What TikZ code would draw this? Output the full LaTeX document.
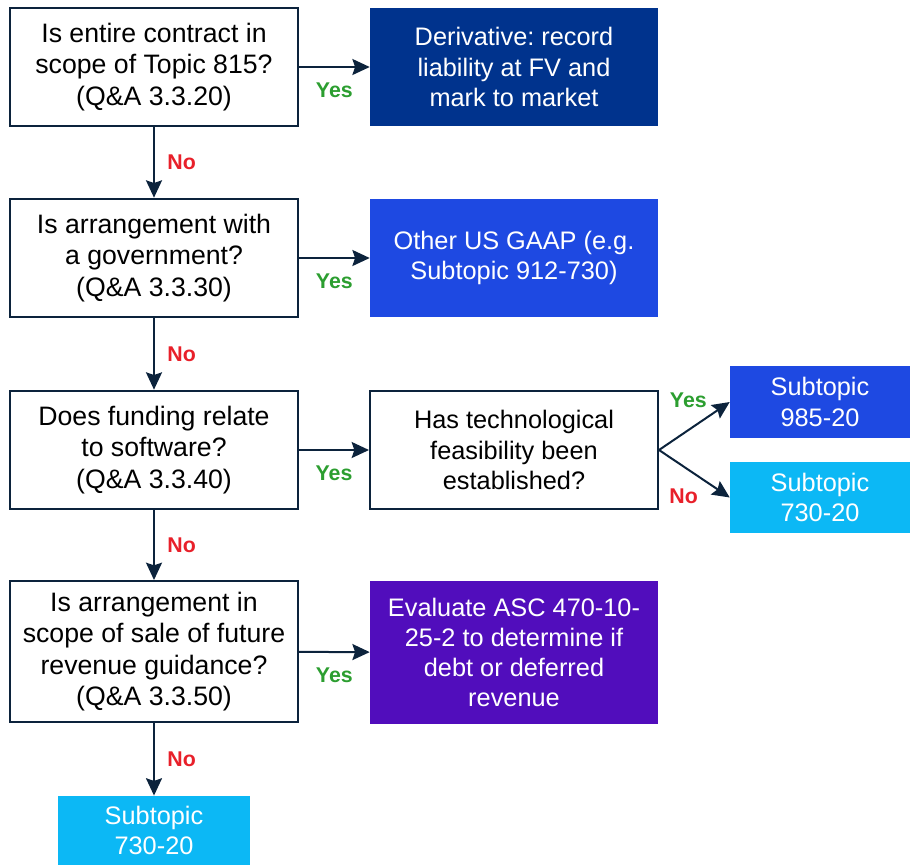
\documentclass[tikz,border=0pt]{standalone}
\usepackage{fontspec}
\setmainfont{Liberation Sans}
\usepackage{tikz}
\usetikzlibrary{positioning, arrows.meta}
\frenchspacing

\definecolor{lineblue}{RGB}{12,35,60}
\definecolor{navybox}{RGB}{0,51,141}
\definecolor{bluebox}{RGB}{30,73,226}
\definecolor{cyanbox}{RGB}{12,184,245}
\definecolor{purplebox}{RGB}{81,13,188}
\definecolor{yesgreen}{RGB}{44,158,48}
\definecolor{nored}{RGB}{232,32,42}

\begin{document}
\begin{tikzpicture}[x=0.75pt, y=-0.75pt, font=\fontsize{20}{23.5}\selectfont]
        % Setup the styles for the boxes
        \tikzset{question/.style={draw=lineblue,
                                  line width=1.5pt,
                                  fill=white,
                                  minimum width=216pt,
                                  minimum height=89pt,
                                  inner sep=0pt,
                                  align=center},
                 answer/.style={fill=#1,
                                text=white,
                                font=\fontsize{19}{22.6}\selectfont,
                                minimum width=216pt,
                                minimum height=89pt,
                                inner sep=0pt,
                                align=center},
                 yes label/.style={text=yesgreen, font=\bfseries\fontsize{16}{19}\selectfont},
                 no label/.style={text=nored, font=\bfseries\fontsize{16}{19}\selectfont}}

        \useasboundingbox (0,0) rectangle (910,865);

        % Draw the questions
        \node[question] at (154, 67)    (q1) {Is entire contract in\\scope of Topic 815?\\(Q\&A 3.3.20)};
        \node[question] at (154, 258)   (q2) {Is arrangement with\\a government?\\(Q\&A 3.3.30)};
        \node[question] at (154, 450)   (q3) {Does funding relate\\to software?\\(Q\&A 3.3.40)};
        \node[question, minimum height=105.75pt] at (154, 651.5) (q4) {Is arrangement in\\scope of sale of future\\revenue guidance?\\(Q\&A 3.3.50)};
        \node[question, font=\fontsize{19}{22.6}\selectfont] at (514, 450) (tech) {Has technological\\feasibility been\\established?};

        % Draw the outcomes
        \node[answer=navybox] at (514, 67)   (deriv) {Derivative: record\\liability at FV and\\mark to market};
        \node[answer=bluebox] at (514, 258)  (gaap) {Other US GAAP (e.g.\\Subtopic 912-730)};
        \node[answer=bluebox, minimum width=135pt, minimum height=54pt] at (820, 402) (sub985) {Subtopic\\985-20};
        \node[answer=cyanbox, minimum width=135pt, minimum height=53.5pt] at (820, 497.5) (sub730a) {Subtopic\\730-20};
        \node[answer=purplebox, minimum height=107pt] at (514, 652.5) (evaluate) {Evaluate ASC 470-10-\\25-2 to determine if\\debt or deferred\\revenue};
        \node[answer=cyanbox, minimum width=144pt, minimum height=52pt] at (154, 830.5) (sub730b) {Subtopic\\730-20};

        % Connect the boxes with arrows
        \path[every edge/.append style={line width=1.5pt,
                                        draw=lineblue,
                                        -{Stealth[length=13pt, width=12pt, inset=2pt]}}]
            (q1)     edge  node[yes label, below=8pt] {Yes} (deriv)
            (q1)     edge  node[no label, right=6pt]  {No}  (q2)
            (q2)     edge  node[yes label, below=8pt] {Yes} (gaap)
            (q2)     edge  node[no label, right=6pt]  {No}  (q3)
            (q3)     edge  node[yes label, below=8pt] {Yes} (tech)
            (q3)     edge  node[no label, right=6pt]  {No}  (q4)
            (tech.east) edge node[yes label, xshift=-4.5pt, yshift=19.5pt] {Yes} (sub985.west)
            (tech.east) edge node[no label, xshift=-8pt, yshift=-17pt]   {No}  (sub730a.west)
            (q4)     edge  node[yes label, below=8pt] {Yes} (evaluate)
            (q4)     edge  node[no label, right=6pt]  {No}  (sub730b);
\end{tikzpicture}
\end{document}
